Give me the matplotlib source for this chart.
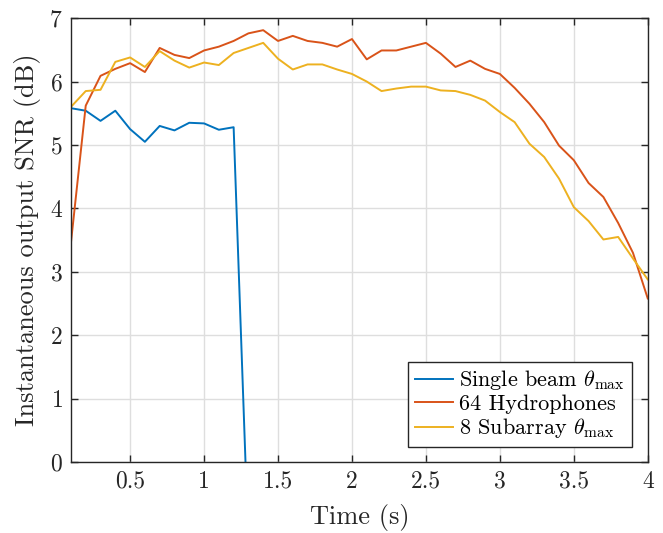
import numpy as np
import matplotlib
matplotlib.use("Agg")
import matplotlib.pyplot as plt

plt.rcParams['font.family'] = ['cmr10', 'DejaVu Serif']
plt.rcParams['mathtext.fontset'] = 'cm'
plt.rcParams['axes.formatter.use_mathtext'] = True

time_single = [0.1, 0.2, 0.3, 0.4, 0.5, 0.6, 0.7, 0.8, 0.9, 1.0, 1.1, 1.2, 1.3]
snr_single = [5.58, 5.54, 5.38, 5.54, 5.25, 5.05, 5.30, 5.23, 5.35, 5.34, 5.24, 5.28, -1.3]

time = [round(0.1 * i, 1) for i in range(1, 41)]
snr_64 = [3.46, 5.62, 6.09, 6.20, 6.29, 6.15, 6.53, 6.42, 6.37, 6.49,
          6.55, 6.64, 6.76, 6.81, 6.64, 6.72, 6.64, 6.61, 6.55, 6.67,
          6.35, 6.49, 6.49, 6.55, 6.61, 6.44, 6.23, 6.33, 6.20, 6.12,
          5.90, 5.65, 5.36, 4.99, 4.76, 4.40, 4.18, 3.77, 3.30, 2.58]
snr_sub = [5.60, 5.85, 5.87, 6.31, 6.38, 6.23, 6.48, 6.33, 6.22, 6.30,
           6.26, 6.45, 6.53, 6.61, 6.36, 6.19, 6.27, 6.27, 6.19, 6.12,
           6.00, 5.85, 5.89, 5.92, 5.92, 5.86, 5.85, 5.79, 5.70, 5.52,
           5.36, 5.02, 4.81, 4.47, 4.02, 3.80, 3.51, 3.55, 3.21, 2.88]

labels = [r'Single beam $\theta_{\max}$', '64 Hydrophones', r'8 Subarray $\theta_{\max}$']
colors = ['#0072BD', '#D95319', '#EDB120']

fig = plt.figure(figsize=(6.63, 5.33), dpi=100)
ax = fig.add_axes([0.107, 0.133, 0.870, 0.833])
ax.plot(time_single, snr_single, color=colors[0], lw=1.4, label=labels[0])
ax.plot(time, snr_64, color=colors[1], lw=1.4, label=labels[1])
ax.plot(time, snr_sub, color=colors[2], lw=1.4, label=labels[2])

ax.set_xlim(0.1, 4)
ax.set_ylim(0, 7)
ax.set_xticks([0.5, 1, 1.5, 2, 2.5, 3, 3.5, 4])
ax.set_xticklabels(['0.5', '1', '1.5', '2', '2.5', '3', '3.5', '4'])
ax.set_yticks(range(0, 8))
ax.grid(True, color='#dedede', lw=1.0)
ax.set_axisbelow(True)
ax.tick_params(direction='in', top=True, right=True, labelsize=17, length=5, width=1,
               colors='#262626', pad=6)
for s in ax.spines.values():
    s.set_color('#262626')
    s.set_linewidth(1.0)
ax.set_xlabel('Time (s)', fontsize=19, color='#262626', labelpad=8)
ax.set_ylabel('Instantaneous output SNR (dB)', fontsize=19, color='#262626', labelpad=6)

leg = ax.legend(loc='lower right', bbox_to_anchor=(0.972, 0.034), fontsize=16,
                frameon=True, fancybox=False, edgecolor='#262626', framealpha=1,
                handlelength=1.7, borderpad=0.3, labelspacing=0.1, handletextpad=0.3,
                borderaxespad=0)
leg.get_frame().set_linewidth(1.0)

fig.savefig('out.png', dpi=100)
